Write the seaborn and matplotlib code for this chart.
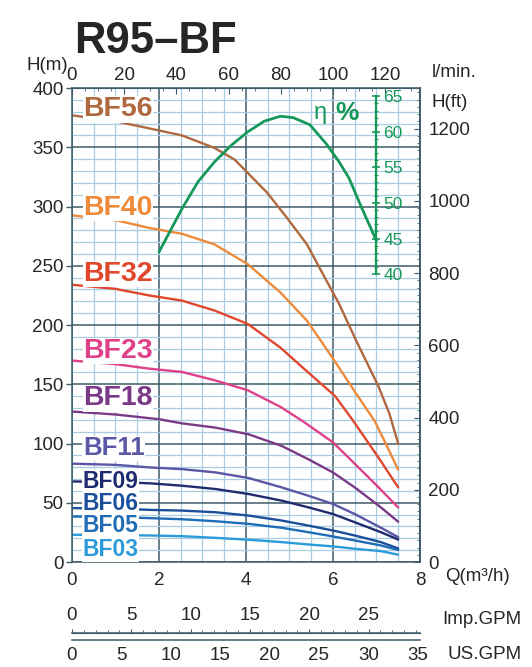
import numpy as np
import pandas as pd
import seaborn as sns
import matplotlib.pyplot as plt
from matplotlib.ticker import MultipleLocator

# pump models, top to bottom
models = ['BF56', 'BF40', 'BF32', 'BF23', 'BF18', 'BF11', 'BF09', 'BF06', 'BF05', 'BF03']
colors = ['#b0693e', '#ee8b3b', '#e0472c', '#e0408a', '#7b3a88',
          '#5b57a6', '#1f2b6f', '#1b4f9c', '#1f6db6', '#2b9bd9']

# head curves Q (m3/h) -> H (m)
q_bf56 = [0, 1, 1.77, 2.53, 3.28, 3.74, 4.04, 4.49, 4.94, 5.4, 5.77, 6.14, 6.52, 7.05, 7.3, 7.5]
h_bf56 = [377, 372, 366, 360, 349.4, 339.6, 328.4, 311.6, 290.6, 268.2, 243, 218, 188, 148, 125, 100]
q_bf40 = [0, 1, 1.77, 2.53, 3.28, 4.04, 4.79, 5.4, 5.77, 6.08, 6.5, 6.96, 7.2, 7.5]
h_bf40 = [292.6, 288.5, 282, 277, 268, 251.4, 227.6, 203.8, 184.2, 167.4, 144, 119, 101, 78]
q_bf32 = [0, 1, 1.77, 2.53, 3.28, 4.04, 4.79, 5.4, 6.05, 6.45, 7.05, 7.5]
h_bf32 = [234, 230.5, 225, 220.6, 212.2, 201, 181, 161, 140, 120, 88, 63]
q_bf23 = [0, 1, 1.77, 2.53, 3.28, 4.04, 4.79, 5.3, 6.0, 6.5, 7.05, 7.5]
h_bf23 = [170, 167, 163.2, 160.4, 153.4, 145, 131, 119, 101, 83, 63, 46]
q_bf18 = [0, 1, 2, 2.53, 3.3, 4.06, 4.82, 5.43, 6.0, 6.5, 7.1, 7.5]
h_bf18 = [127, 124.5, 120.5, 117, 113.4, 107.8, 98, 86.8, 75.6, 63, 46.2, 34]
q_low = [0, 1, 1.8, 2.53, 3.3, 4.06, 4.82, 5.43, 6.0, 6.5, 7.1, 7.5]
h_bf11 = [83, 82, 79.8, 78.4, 75.6, 70.9, 63, 56, 49, 40.5, 29, 21]
h_bf09 = [68, 67.5, 66.4, 64.4, 61.6, 57.4, 51.8, 46.2, 40.5, 33.6, 25.2, 19]
h_bf06 = [45.5, 45, 44, 43.4, 42, 39.2, 35, 30.8, 26.6, 22.4, 16.8, 11.5]
h_bf05 = [38.4, 38, 37, 36.1, 34.4, 32.2, 28.9, 25.2, 21.6, 18.2, 14, 10.2]
h_bf03 = [23, 22.8, 22.4, 21.8, 20.4, 18.8, 16.8, 14.8, 13.2, 11.2, 9.2, 6.2]

# efficiency curve (%)
q_eff = [2.0, 2.53, 2.9, 3.28, 3.66, 4.04, 4.42, 4.79, 5.09, 5.47, 5.85, 6.14, 6.37, 6.67, 7.0]
eff = [43.1, 49.2, 53.0, 55.8, 58.1, 60.0, 61.5, 62.2, 62.0, 61.0, 58.3, 55.8, 53.5, 49.2, 44.7]

# where the model labels sit (Q, H) and their size
label_q = 0.25
label_h = [382, 299, 243, 178, 138, 96, 68, 49.5, 30.5, 10.5]
label_size = [20.5, 20.5, 20.5, 20.5, 20.5, 18.5, 16.5, 16.5, 16.5, 16.5]

curves = {
    'BF56': (q_bf56, h_bf56), 'BF40': (q_bf40, h_bf40),
    'BF32': (q_bf32, h_bf32), 'BF23': (q_bf23, h_bf23), 'BF18': (q_bf18, h_bf18),
    'BF11': (q_low, h_bf11), 'BF09': (q_low, h_bf09), 'BF06': (q_low, h_bf06),
    'BF05': (q_low, h_bf05), 'BF03': (q_low, h_bf03),
}
rows = []
for m in models:
    qs, hs = curves[m]
    for q, h in zip(qs, hs):
        rows.append({'model': m, 'Q': q, 'H': h})
df = pd.DataFrame(rows)
df_eff = pd.DataFrame({'Q': q_eff, 'eff': eff})

sns.set_style('white')
plt.rcParams['font.family'] = ['Liberation Sans', 'DejaVu Sans']

MAJ = '#3e5b68'
MIN = '#a8cce0'
GREEN = '#16985a'
FS = 13.5

fig = plt.figure(figsize=(5.32, 6.67), dpi=100)
ax = fig.add_axes([0.1353, 0.1574, 0.654, 0.7106])

ax.set_xlim(0, 8)
ax.set_ylim(0, 400)
ax.xaxis.set_major_locator(MultipleLocator(2))
ax.xaxis.set_minor_locator(MultipleLocator(0.5))
ax.yaxis.set_major_locator(MultipleLocator(50))
ax.yaxis.set_minor_locator(MultipleLocator(10))
ax.set_axisbelow(True)
ax.grid(which='minor', color=MIN, lw=0.9)
ax.grid(which='major', color=MAJ, lw=1.1)
for s in ax.spines.values():
    s.set_color(MAJ)
    s.set_linewidth(1.1)
ax.tick_params(axis='both', which='major', labelsize=FS, color=MAJ,
               direction='out', length=4, width=1)
ax.tick_params(axis='both', which='minor', length=0)
ax.tick_params(axis='x', pad=3)
ax.tick_params(axis='y', pad=2)

sns.lineplot(data=df, x='Q', y='H', hue='model', palette=dict(zip(models, colors)),
             estimator=None, legend=False, linewidth=1.7, ax=ax)
ax.set_xlabel('')
ax.set_ylabel('')

for m, c, h, fs in zip(models, colors, label_h, label_size):
    ax.text(label_q, h, m, color=c, fontsize=fs, fontweight='bold',
            ha='left', va='center', zorder=5,
            bbox=dict(facecolor='white', edgecolor='none', pad=0.3))

# l/min scale on top
top = ax.secondary_xaxis('top', functions=(lambda q: q * 1000 / 60, lambda l: l * 60 / 1000))
top.set_xticks(np.arange(0, 121, 20))
top.xaxis.set_minor_locator(MultipleLocator(5))
top.tick_params(which='major', direction='in', length=4, color=MAJ, labelsize=FS, pad=3)
top.tick_params(which='minor', direction='in', length=2.5, color=MAJ)
top.spines['top'].set_color(MAJ)

# efficiency axis (green, inside the chart)
ax_eff = ax.twinx()
ax_eff.set_ylim(-0.5, 66.1667)
sns.lineplot(data=df_eff, x='Q', y='eff', color=GREEN, linewidth=2, estimator=None, ax=ax_eff)
ax_eff.set_ylabel('')
for k in ['left', 'top', 'bottom']:
    ax_eff.spines[k].set_visible(False)
ax_eff.spines['right'].set_position(('data', 7.0))
ax_eff.spines['right'].set_bounds(40, 65)
ax_eff.spines['right'].set_color(GREEN)
ax_eff.spines['right'].set_linewidth(1.6)
ax_eff.set_yticks([40, 45, 50, 55, 60, 65])
ax_eff.set_yticks(np.arange(40, 66, 1), minor=True)
ax_eff.tick_params(axis='y', which='major', direction='inout', length=6, width=1.2,
                   color=GREEN, labelcolor=GREEN, labelsize=12.5, pad=2)
ax_eff.tick_params(axis='y', which='minor', direction='inout', length=3, width=0.8, color=GREEN)
ax_eff.text(5.72, 379, 'η', color=GREEN, fontsize=17, ha='center', va='center',
            transform=ax.transData)
ax_eff.text(6.33, 379, '%', color=GREEN, fontsize=19, fontweight='bold', ha='center',
            va='center', transform=ax.transData)

# feet scale on the right
ax_ft = ax.twinx()
ax_ft.set_ylim(0, 400 * 3.28084)
ax_ft.set_yticks(np.arange(0, 1201, 200))
ax_ft.yaxis.set_minor_locator(MultipleLocator(20))
ax_ft.tick_params(axis='y', which='major', direction='in', length=4, color=MAJ,
                  labelsize=FS, pad=6)
ax_ft.tick_params(axis='y', which='minor', direction='in', length=2, color=MAJ)
for s in ax_ft.spines.values():
    s.set_visible(False)
ax_ft.spines['right'].set_visible(True)
ax_ft.spines['right'].set_color(MAJ)
ax_ft.spines['right'].set_linewidth(1.1)

# axis titles
fig.text(0.139, 0.968, 'R95–BF', fontsize=31.5, fontweight='bold', ha='left', va='top')
fig.text(0.128, 0.9025, 'H(m)', fontsize=FS, ha='right', va='center')
fig.text(0.812, 0.892, 'l/min.', fontsize=FS, ha='left', va='center')
fig.text(0.812, 0.846, 'H(ft)', fontsize=FS, ha='left', va='center')
fig.text(0.836, 0.135, 'Q(m³/h)', fontsize=FS, ha='left', va='center')

# GPM ruler below
rl = fig.add_axes([0.1353, 0.041, 0.654, 0.0105])
rl.set_xlim(0, 8 * 4.40287)
rl.set_ylim(0, 1)
rl.set_yticks([])
rl.set_xticks(np.arange(0, 36, 5))
rl.xaxis.set_minor_locator(MultipleLocator(1))
rl.tick_params(axis='x', which='major', direction='out', length=3, color=MAJ,
               labelsize=FS, pad=2.5)
rl.tick_params(axis='x', which='minor', direction='out', length=2, color=MAJ)
for k in ['left', 'right']:
    rl.spines[k].set_visible(False)
for k in ['top', 'bottom']:
    rl.spines[k].set_color(MAJ)
    rl.spines[k].set_linewidth(1.1)
rl_top = rl.secondary_xaxis('top', functions=(lambda u: u / 4.40287 * 3.66615,
                                              lambda i: i / 3.66615 * 4.40287))
rl_top.set_xticks(np.arange(0, 26, 5))
rl_top.xaxis.set_minor_locator(MultipleLocator(1))
rl_top.tick_params(which='major', direction='out', length=3, color=MAJ, labelsize=FS, pad=3)
rl_top.tick_params(which='minor', direction='out', length=2, color=MAJ)
rl_top.spines['top'].set_color(MAJ)
fig.text(0.98, 0.0705, 'Imp.GPM', fontsize=FS, ha='right', va='center')
fig.text(0.98, 0.018, 'US.GPM', fontsize=FS, ha='right', va='center')

fig.savefig('out.png', dpi=100)
